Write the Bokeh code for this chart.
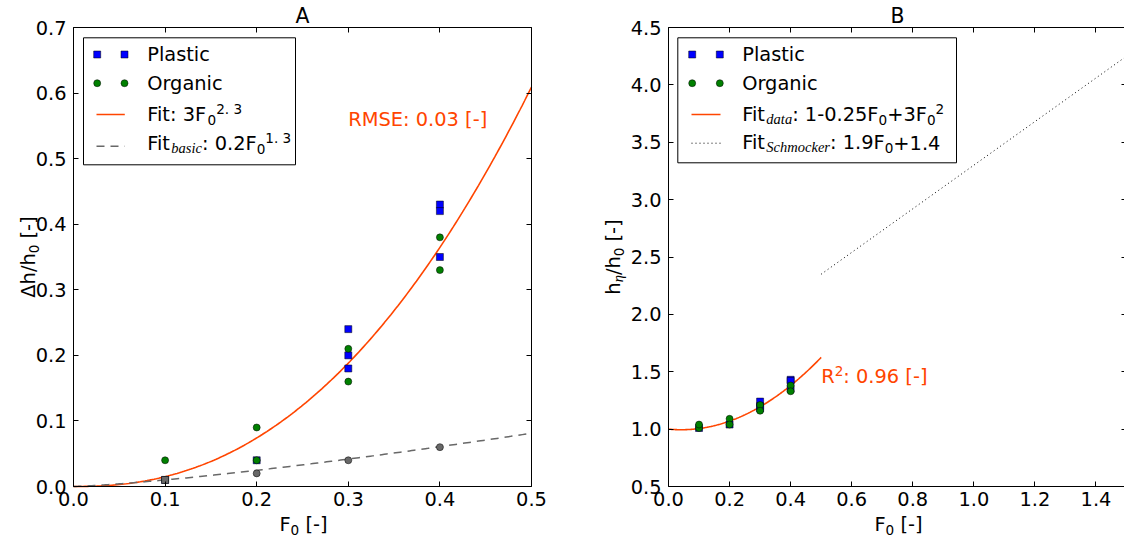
import numpy as np
from bokeh.plotting import figure
from bokeh.models import Range1d, LinearAxis, FixedTicker, PrintfTickFormatter, Label
from bokeh.layouts import row
from bokeh.embed import file_html
from bokeh.resources import INLINE

# ---------------- data ----------------
f0_plastic = [0.1, 0.2, 0.3, 0.3, 0.3, 0.4, 0.4, 0.4]
dh_plastic = [0.01, 0.04, 0.24, 0.20, 0.18, 0.43, 0.42, 0.35]
f0_organic = [0.1, 0.1, 0.2, 0.2, 0.3, 0.3, 0.4, 0.4]
dh_organic = [0.01, 0.04, 0.09, 0.04, 0.21, 0.16, 0.38, 0.33]
f0_basic_sq = [0.1]
dh_basic_sq = [0.01]
f0_basic = [0.2, 0.3, 0.4]
dh_basic = [0.02, 0.04, 0.06]

heta_plastic = [1.01, 1.04, 1.24, 1.20, 1.18, 1.43, 1.42, 1.35]
heta_organic = [1.01, 1.04, 1.09, 1.04, 1.21, 1.16, 1.38, 1.33]

fit_a_coef, fit_a_exp = 3.0, 2.3
basic_coef, basic_exp = 0.2, 1.3
fit_b_coefs = [1.0, -0.25, 3.0]
schmocker_coefs = [1.9, 1.4]
fit_a_range = [0.0, 0.5]
fit_b_range = [0.0, 0.5]
schmocker_range = [0.5, 1.5]

xlim_a, ylim_a = (0.0, 0.5), (0.0, 0.7)
xlim_b, ylim_b = (0.0, 1.5), (0.5, 4.5)
xticks_a = [0.0, 0.1, 0.2, 0.3, 0.4, 0.5]
yticks_a = [0.0, 0.1, 0.2, 0.3, 0.4, 0.5, 0.6, 0.7]
xticks_b = [0.0, 0.2, 0.4, 0.6, 0.8, 1.0, 1.2, 1.4]
yticks_b = [0.5, 1.0, 1.5, 2.0, 2.5, 3.0, 3.5, 4.0, 4.5]

RED = "#FF4500"
BLUE = "#0000FF"
GREEN = "#008000"
GRAY = "#686868"

# ---------------- text helpers ----------------
MAIN = 19.4
SMALL = 13.6
ITAL = 14.5
MID = 0.346  # distance of the font box middle above the alphabetic baseline (em)
DV = {' ': 651, '+': 1716, '-': 739, '.': 651, '/': 690, ':': 690, '[': 799, ']': 799,
      'A': 1401, 'B': 1405, 'E': 1294, 'F': 1178, 'M': 1767, 'O': 1612, 'P': 1235,
      'R': 1423, 'S': 1300, 'a': 1255, 'b': 1300, 'c': 1126, 'd': 1300, 'e': 1260,
      'g': 1300, 'h': 1298, 'i': 569, 'k': 1186, 'l': 569, 'm': 1995, 'n': 1298,
      'o': 1253, 'r': 842, 's': 1067, 't': 803, '\u0394': 1401, '\u03b7': 1298}
for _d in "0123456789":
    DV[_d] = 1303
TI = {'a': 500, 'b': 500, 'c': 444, 'd': 500, 'e': 444, 'h': 500, 'i': 278, 'k': 444,
      'm': 722, 'o': 500, 'r': 389, 's': 389, 't': 278, 'S': 500, '\u03b7': 500, ' ': 250}

STYLE = {
    'n': (MAIN, "DejaVu Sans", "normal", 0.0),
    'sub': (SMALL, "DejaVu Sans", "normal", -3.5),
    'sup': (SMALL, "DejaVu Sans", "normal", 7.5),
    'i': (ITAL, "Liberation Serif", "italic", -3.0),
}


def width(txt, kind):
    if kind == 'i':
        return sum(TI.get(c, 500) for c in txt) / 1000.0 * ITAL
    size = STYLE[kind][0]
    return sum(DV.get(c, 1300) for c in txt) / 2048.0 * size


def rich(p, x, y, pieces, color="black", angle=0.0, align="left", dx=0.0, dy=0.0, size_scale=1.0):
    total = sum(width(t, k) for t, k in pieces) * size_scale
    off = 0.0 if align == "left" else -total / 2.0
    for t, k in pieces:
        size, font, style, shift = STYLE[k]
        size *= size_scale
        shift += MID * size
        lead = len(t) - len(t.lstrip(' '))
        lead_w = width(t[:lead], k) * size_scale
        s = t.strip(' ')
        pos = off + lead_w
        if angle == 0.0:
            xo, yo = dx + pos, dy + shift
        else:
            xo, yo = dx - shift, dy + pos
        p.add_layout(Label(x=x, y=y, x_offset=xo, y_offset=yo, text=s, angle=angle,
                           text_font=font, text_font_size=f"{size:.1f}px",
                           text_font_style=style, text_color=color,
                           text_align="left", text_baseline="middle"))
        off += width(t, k) * size_scale


# ---------------- geometry (page pixels) ----------------
W, H = 1124, 537
SPLIT = 580
TOP, BOT = 27, 486
LA, WA = 73, 458
LB, WB = 668, 458
SXA = WA / (xlim_a[1] - xlim_a[0])
SYA = (BOT - TOP) / (ylim_a[1] - ylim_a[0])
SXB = WB / (xlim_b[1] - xlim_b[0])
SYB = (BOT - TOP) / (ylim_b[1] - ylim_b[0])


def pa(px, py):
    return xlim_a[0] + (px - LA) / SXA, ylim_a[0] + (BOT - py) / SYA


def pb(px, py):
    return xlim_b[0] + (px - LB) / SXB, ylim_b[0] + (BOT - py) / SYB


def make_fig(width_px, conv, x0px, x1px, xlim, ylim, xt, yt, right_axis=True):
    xs0, ys1 = conv(x0px, 0)
    xs1, ys0 = conv(x1px, H)
    p = figure(width=width_px, height=H, output_backend="svg", toolbar_location=None,
               x_range=Range1d(xs0, xs1), y_range=Range1d(ys0, ys1),
               x_axis_type=None, y_axis_type=None,
               min_border_left=0, min_border_right=0, min_border_top=0, min_border_bottom=0)
    p.title.visible = False
    p.outline_line_color = None
    p.background_fill_color = "white"
    p.border_fill_color = "white"
    sides = [("below", xt, True, ylim[0], xlim), ("left", yt, True, xlim[0], ylim),
             ("above", xt, False, ylim[1], xlim)]
    if right_axis:
        sides.append(("right", yt, False, xlim[1], ylim))
    for side, ticks, show, loc, bnds in sides:
        ax = LinearAxis(ticker=FixedTicker(ticks=ticks),
                        formatter=PrintfTickFormatter(format="%.1f"),
                        fixed_location=loc, bounds=bnds)
        ax.axis_line_color = "black"
        ax.axis_line_width = 1
        ax.major_tick_in = 5
        ax.major_tick_out = 0
        ax.major_tick_line_color = "black"
        ax.minor_tick_line_color = None
        ax.major_label_text_font = "DejaVu Sans"
        ax.major_label_text_color = "black"
        if show:
            ax.major_label_text_font_size = f"{MAIN}px"
            ax.major_label_standoff = 5 if side == "below" else 7
        else:
            ax.major_label_text_font_size = "0px"
            ax.major_label_text_alpha = 0
            ax.major_label_standoff = 0
        p.add_layout(ax, side)
    return p


# ---------------- panel A ----------------
pA = make_fig(SPLIT, pa, 0, SPLIT, xlim_a, ylim_a, xticks_a, yticks_a)

xa = np.linspace(fit_a_range[0], fit_a_range[1], 200)
pA.line(xa, fit_a_coef * xa ** fit_a_exp, line_color=RED, line_width=1.6)
pA.line(xa, basic_coef * xa ** basic_exp, line_color=GRAY, line_width=1.5, line_dash="8 6")

pA.scatter(f0_plastic, dh_plastic, marker="square", size=7, fill_color=BLUE, line_color="black", line_width=0.5)
pA.scatter(f0_organic, dh_organic, marker="circle", size=7, fill_color=GREEN, line_color="black", line_width=0.5)
pA.scatter(f0_basic_sq, dh_basic_sq, marker="square", size=7, fill_color=GRAY, line_color="black", line_width=0.5)
pA.scatter(f0_basic, dh_basic, marker="circle", size=7, fill_color=GRAY, line_color="black", line_width=0.5)

# legend A
l, t = pa(83, 37.3)
r, b = pa(295, 164.3)
pA.quad(left=l, right=r, top=t, bottom=b, fill_color="white", line_color="black", line_width=1)
m1, yy1 = pa(96.7, 54)
m2, yy2 = pa(124, 82.7)
pA.scatter([m1, m2], [yy1, yy1], marker="square", size=7, fill_color=BLUE, line_color="black", line_width=0.5)
pA.scatter([m1, m2], [yy2, yy2], marker="circle", size=7, fill_color=GREEN, line_color="black", line_width=0.5)
a1, ly1 = pa(96, 114)
a2, ly2 = pa(124.3, 145.7)
pA.line([a1, a2], [ly1, ly1], line_color=RED, line_width=1.6)
pA.line([a1, a2], [ly2, ly2], line_color=GRAY, line_width=1.5, line_dash="8 6")
tx, _ = pa(146.7, 0)
legA = [
    (60.7, [("Plastic", 'n')]),
    (89.3, [("Organic", 'n')]),
    (120.7, [("Fit: 3F", 'n'), ("0", 'sub'), ("2. 3", 'sup')]),
    (150.0, [("Fit", 'n'), ("basic", 'i'), (": 0.2F", 'n'), ("0", 'sub'), ("1. 3", 'sup')]),
]
for by, pcs in legA:
    rich(pA, tx, pa(0, by)[1], pcs)

rich(pA, 0.3, 0.55, [("RMSE: 0.03 [-]", 'n')], color=RED)
xc = (xlim_a[0] + xlim_a[1]) / 2
yc = (ylim_a[0] + ylim_a[1]) / 2
rich(pA, xc, ylim_a[0], [("F", 'n'), ("0", 'sub'), (" [-]", 'n')], align="center", dx=1, dy=-45)
rich(pA, xlim_a[0], yc, [("\u0394h/h", 'n'), ("0", 'sub'), (" [-]", 'n')], align="center",
     angle=np.pi / 2, dx=-38)
rich(pA, xc, ylim_a[1], [("A", 'n')], align="center", dy=4, size_scale=1.05)

# ---------------- panel B ----------------
pB = make_fig(W - SPLIT, pb, SPLIT, W, xlim_b, ylim_b, xticks_b, yticks_b, right_axis=True)

xb = np.linspace(fit_b_range[0], fit_b_range[1], 200)
pB.line(xb, fit_b_coefs[0] + fit_b_coefs[1] * xb + fit_b_coefs[2] * xb ** 2, line_color=RED, line_width=1.6)
xs = np.array(schmocker_range)
pB.line(xs, schmocker_coefs[0] * xs + schmocker_coefs[1], line_color="black", line_width=1, line_dash="1 3")

pB.scatter(f0_plastic, heta_plastic, marker="square", size=7, fill_color=BLUE, line_color="black", line_width=0.5)
pB.scatter(f0_organic, heta_organic, marker="circle", size=7, fill_color=GREEN, line_color="black", line_width=0.5)

l, t = pb(677.3, 37.3)
r, b = pb(956, 162.3)
pB.quad(left=l, right=r, top=t, bottom=b, fill_color="white", line_color="black", line_width=1)
m1, yy1 = pb(691.7, 54)
m2, yy2 = pb(719.3, 82.7)
pB.scatter([m1, m2], [yy1, yy1], marker="square", size=7, fill_color=BLUE, line_color="black", line_width=0.5)
pB.scatter([m1, m2], [yy2, yy2], marker="circle", size=7, fill_color=GREEN, line_color="black", line_width=0.5)
a1, ly1 = pb(691, 114)
a2, ly2 = pb(720, 142.7)
pB.line([a1, a2], [ly1, ly1], line_color=RED, line_width=1.6)
pB.line([a1, a2], [ly2, ly2], line_color="black", line_width=1, line_dash="1 3")
tx, _ = pb(741.7, 0)
legB = [
    (60.7, [("Plastic", 'n')]),
    (89.3, [("Organic", 'n')]),
    (120.7, [("Fit", 'n'), ("data", 'i'), (": 1-0.25F", 'n'), ("0", 'sub'), ("+3F", 'n'), ("0", 'sub'), ("2", 'sup')]),
    (149.0, [("Fit", 'n'), ("Schmocker", 'i'), (": 1.9F", 'n'), ("0", 'sub'), ("+1.4", 'n')]),
]
for by, pcs in legB:
    rich(pB, tx, pb(0, by)[1], pcs)

rich(pB, 0.5, 1.4, [("R", 'n'), ("2", 'sup'), (": 0.96 [-]", 'n')], color=RED)
xc = (xlim_b[0] + xlim_b[1]) / 2
yc = (ylim_b[0] + ylim_b[1]) / 2
rich(pB, xc, ylim_b[0], [("F", 'n'), ("0", 'sub'), (" [-]", 'n')], align="center", dx=1, dy=-45)
rich(pB, xlim_b[0], yc, [("h", 'n'), ("\u03b7", 'i'), ("/h", 'n'), ("0", 'sub'), (" [-]", 'n')],
     align="center", angle=np.pi / 2, dx=-48)
rich(pB, xc, ylim_b[1], [("B", 'n')], align="center", dy=4, size_scale=1.05)

layout = row(pA, pB)
open("out.html", "w").write(file_html(layout, INLINE))
